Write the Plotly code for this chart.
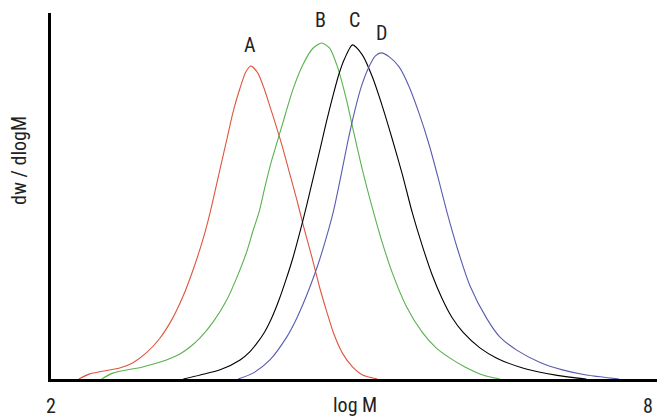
import plotly.graph_objects as go

# log M values and relative dw/dlogM (0-100)
a_x = [2.28, 2.39, 2.69, 2.82, 2.96, 3.09, 3.22, 3.33, 3.43, 3.53, 3.60, 3.70, 3.77, 3.83, 3.90, 3.96, 4.01,
       4.08, 4.14, 4.20, 4.27, 4.33, 4.40, 4.47, 4.54, 4.62, 4.70, 4.77, 4.84, 4.93, 5.03, 5.13, 5.28]
a_y = [0, 1.4, 3.0, 4.4, 7.2, 11.0, 16.5, 22.8, 30.0, 38.4, 45.6, 57.5, 65.8, 73.0, 79.5, 84.0, 85.5,
       83.5, 79.5, 74.5, 68.5, 63.0, 56.0, 49.0, 41.5, 33.5, 25.0, 18.5, 12.5, 7.0, 3.3, 1.1, 0]

b_x = [2.51, 2.62, 2.92, 3.16, 3.30, 3.40, 3.50, 3.63, 3.77, 3.87, 3.97, 4.03, 4.09, 4.15, 4.21, 4.27, 4.33,
       4.43, 4.53, 4.63, 4.72, 4.80, 4.88, 4.97, 5.03, 5.13, 5.23, 5.33, 5.43, 5.57, 5.73, 5.87, 6.01, 6.16,
       6.34, 6.51]
b_y = [0, 1.6, 3.3, 5.2, 6.9, 8.8, 11.3, 15.6, 21.8, 27.9, 35.0, 40.5, 45.5, 52.5, 59.0, 64.5, 70.0,
       79.0, 85.8, 90.3, 91.8, 90.4, 85.2, 76.2, 68.9, 57.1, 46.7, 37.2, 29.0, 19.9, 12.8, 8.5, 5.7, 3.3,
       1.1, 0]

c_x = [3.33, 3.50, 3.70, 3.90, 4.00, 4.07, 4.15, 4.22, 4.29, 4.36, 4.43, 4.50, 4.57, 4.64, 4.71, 4.77, 4.83,
       4.89, 4.95, 5.03, 5.13, 5.23, 5.33, 5.43, 5.53, 5.63, 5.73, 5.83, 5.93, 6.03, 6.14, 6.31, 6.48, 6.74,
       6.98, 7.21, 7.38]
c_y = [0, 1.1, 2.5, 5.2, 7.5, 9.8, 13.0, 16.8, 21.5, 27.0, 33.0, 40.0, 47.5, 55.5, 63.5, 70.5, 77.0,
       83.0, 87.5, 91.3, 88.5, 82.5, 74.5, 65.5, 56.0, 45.5, 36.5, 28.5, 22.0, 16.8, 12.8, 8.5, 5.7, 3.0,
       1.5, 0.5, 0]

d_x = [3.88, 4.03, 4.20, 4.37, 4.45, 4.53, 4.60, 4.68, 4.76, 4.84, 4.91, 4.98, 5.05, 5.12, 5.19, 5.26, 5.32,
       5.40, 5.50, 5.60, 5.70, 5.80, 5.89, 5.98, 6.08, 6.21, 6.38, 6.51, 6.68, 6.91, 7.14, 7.38, 7.71]
d_y = [0, 1.6, 5.2, 11.5, 15.5, 20.3, 25.0, 31.0, 38.0, 46.0, 55.0, 64.5, 73.0, 80.0, 85.0, 88.3, 89.1,
       88.0, 85.2, 79.8, 72.5, 64.0, 55.0, 45.5, 36.0, 25.5, 16.5, 11.5, 7.9, 4.6, 2.5, 1.1, 0]

series = [("A", a_x, a_y, "rgb(222,85,62)"),
          ("B", b_x, b_y, "rgb(88,178,78)"),
          ("C", c_x, c_y, "rgb(0,0,0)"),
          ("D", d_x, d_y, "rgb(88,92,175)")]

# peak label positions (log M, label height)
label_names = ["A", "B", "C", "D"]
label_x = [4.00, 4.71, 5.05, 5.32]
label_y = [91.3, 98.1, 98.1, 94.5]

x_ticks = [2, 8]
x_ticktext = ["2", "8"]

FONT = "Liberation Sans Narrow, Arial Narrow, Roboto Condensed, Roboto, sans-serif"

fig = go.Figure()
for name, xs, ys, col in series:
    fig.add_trace(go.Scatter(x=xs, y=ys, mode="lines", name=name,
                             line=dict(color=col, width=1.1, shape="spline", smoothing=0.7)))

for n, lx, ly in zip(label_names, label_x, label_y):
    fig.add_annotation(x=lx, y=ly, text=n, showarrow=False,
                       font=dict(family=FONT, size=20, color="#222"))

fig.add_annotation(xref="paper", yref="paper", x=0.502, y=0, yshift=-26, text="log M",
                   xanchor="center", yanchor="middle",
                   showarrow=False, font=dict(family=FONT, size=20, color="#222"))
fig.add_annotation(xref="paper", yref="paper", x=-0.053, y=0.598, text="dw / dlogM",
                   xanchor="center", yanchor="middle",
                   textangle=-90, showarrow=False, font=dict(family=FONT, size=20, color="#222"))

fig.update_layout(
    width=657, height=417,
    margin=dict(l=51, r=0, t=13, b=38),
    paper_bgcolor="white", plot_bgcolor="white",
    showlegend=False,
    font=dict(family=FONT, size=20, color="#222"),
)
fig.update_xaxes(range=[2, 8.09], showgrid=False, zeroline=False, showline=True, automargin=False,
                 linecolor="black", linewidth=3, tickvals=x_ticks, ticktext=x_ticktext,
                 ticks="", ticklabelstandoff=7, tickfont=dict(family=FONT, size=20, color="#222"))
fig.update_yaxes(range=[0, 100], showgrid=False, zeroline=False, showline=True, automargin=False,
                 linecolor="black", linewidth=3, showticklabels=False, ticks="")

fig.write_html("out.html")
